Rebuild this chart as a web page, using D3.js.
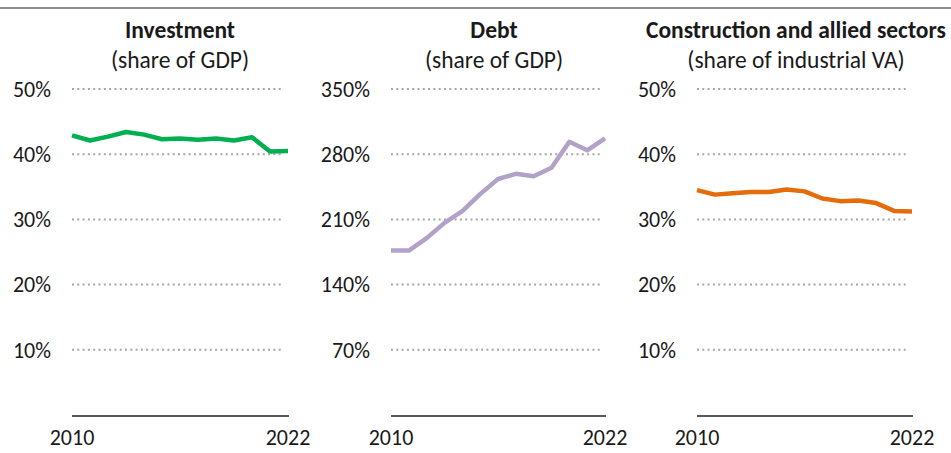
<!DOCTYPE html>
<html>
<head>
<meta charset="utf-8">
<script src="https://cdn.jsdelivr.net/npm/d3@7"></script>
<style>
  body { margin: 0; background: #fff; }
  svg text { font-family: Carlito, Calibri, Lato, sans-serif; fill: #1a1a1a; }
</style>
</head>
<body>
<div id="chart"></div>
<script>
// data
var years = d3.range(2010, 2023);
var investment = [42.9, 42.1, 42.7, 43.4, 43.0, 42.3, 42.4, 42.2, 42.4, 42.1, 42.6, 40.4, 40.5];
var debt = [176.5, 176.5, 189.9, 206.3, 218.9, 237.1, 253.4, 258.9, 256.3, 265.4, 293.3, 284.2, 297.0];
var construction = [34.5, 33.8, 34.0, 34.2, 34.2, 34.6, 34.3, 33.2, 32.8, 32.9, 32.5, 31.3, 31.2];
var pctTicks = [10, 20, 30, 40, 50];
var debtTicks = [70, 140, 210, 280, 350];

var W = 951, H = 453;
var plotTop = 89, plotBottom = 415;

var svg = d3.select("#chart").append("svg")
  .attr("width", W)
  .attr("height", H);

// grey rule across the top
svg.append("line")
  .attr("x1", 0).attr("x2", W)
  .attr("y1", 8).attr("y2", 8)
  .attr("stroke", "#8c8c8c")
  .attr("stroke-width", 2);

var panels = [
  {title: "Investment", sub: "(share of GDP)", vals: investment, ticks: pctTicks, max: 50,
   x0: 72, x1: 288, tx: 180, color: "#00b050"},
  {title: "Debt", sub: "(share of GDP)", vals: debt, ticks: debtTicks, max: 350,
   x0: 391, x1: 605, tx: 494, color: "#b3a2c7"},
  {title: "Construction and allied sectors", sub: "(share of industrial VA)", vals: construction, ticks: pctTicks, max: 50,
   x0: 697, x1: 912, tx: 796, color: "#e46c0a"}
];

panels.forEach(function(p) {
  var g = svg.append("g");

  var x = d3.scaleLinear().domain([2010, 2022]).range([p.x0, p.x1]);
  var y = d3.scaleLinear().domain([0, p.max]).range([plotBottom, plotTop]);

  // titles
  g.append("text")
    .attr("x", p.tx).attr("y", 38)
    .attr("text-anchor", "middle")
    .style("font-size", "23.5px")
    .style("font-weight", "bold")
    .text(p.title);
  g.append("text")
    .attr("x", p.tx).attr("y", 68)
    .attr("text-anchor", "middle")
    .style("font-size", "23.5px")
    .text(p.sub);

  // dotted gridlines
  g.selectAll(".grid")
    .data(p.ticks)
    .enter().append("line")
    .attr("x1", p.x0).attr("x2", p.x1 - 4)
    .attr("y1", function(d) { return y(d); })
    .attr("y2", function(d) { return y(d); })
    .attr("stroke", "#a6a6a6")
    .attr("stroke-width", 2)
    .attr("stroke-dasharray", "2,3.3");

  // y labels
  g.selectAll(".ylab")
    .data(p.ticks)
    .enter().append("text")
    .attr("x", p.x0 - 21)
    .attr("y", function(d) { return y(d); })
    .attr("dy", "0.35em")
    .attr("text-anchor", "end")
    .style("font-size", "22px")
    .text(function(d) { return d + "%"; });

  // baseline
  g.append("line")
    .attr("x1", p.x0).attr("x2", p.x1 + 1)
    .attr("y1", plotBottom + 1).attr("y2", plotBottom + 1)
    .attr("stroke", "#222")
    .attr("stroke-width", 1.3);

  // year labels at the ends only
  g.selectAll(".xlab")
    .data([2010, 2022])
    .enter().append("text")
    .attr("x", function(d) { return x(d); })
    .attr("y", 445)
    .attr("text-anchor", "middle")
    .style("font-size", "22px")
    .text(function(d) { return d; });

  var line = d3.line()
    .x(function(d, i) { return x(years[i]); })
    .y(function(d) { return y(d); });

  g.append("path")
    .datum(p.vals)
    .attr("d", line)
    .attr("fill", "none")
    .attr("stroke", p.color)
    .attr("stroke-width", 4.5)
    .attr("stroke-linejoin", "round");
});
</script>
</body>
</html>
